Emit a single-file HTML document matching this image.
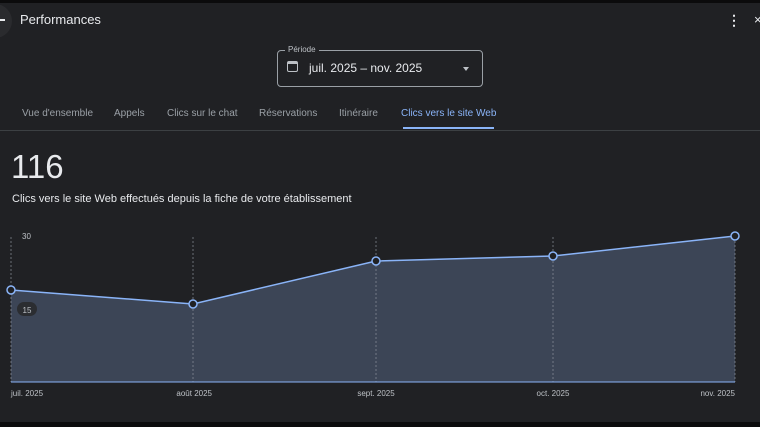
<!DOCTYPE html>
<html><head><meta charset="utf-8"><style>
body{margin:0;width:760px;height:427px;background:#202124;font-family:"Liberation Sans",sans-serif;color:#e8eaed;position:relative;overflow:hidden}
.a{position:absolute;white-space:nowrap}
</style></head><body>
<div class="a" style="left:0;top:0;width:760px;height:3px;background:#0b0b0c"></div>
<div class="a" style="left:-22px;top:4px;width:34px;height:34px;border-radius:50%;background:#2a2b2e"></div>
<div class="a" style="left:0;top:19px;width:5px;height:2px;background:#e8eaed"></div>
<div class="a" style="left:20px;top:12px;font-size:13px">Performances</div>
<div class="a" style="left:727px;top:12px;font-size:14px;font-weight:bold">⋮</div>
<div class="a" style="left:754px;top:12px;font-size:13px">×</div>
<div class="a" style="left:277px;top:50px;width:204px;height:35px;border:1px solid #9aa0a6;border-radius:4px"></div>
<div class="a" style="left:285px;top:45px;font-size:8px;background:#202124;padding:0 3px;color:#bdc1c6">Période</div>
<div class="a" style="left:287px;top:61px;width:11px;height:11px;border:1.5px solid #bdc1c6;border-top-width:3px;border-radius:2px;box-sizing:border-box"></div>
<div class="a" style="left:309px;top:61px;font-size:12px">juil. 2025 – nov. 2025</div>
<div class="a" style="left:463px;top:67px;border:3px solid transparent;border-top:4px solid #bdc1c6"></div>
<div class="a" style="top:108px;font-size:10px;color:#9aa0a6;left:22px">Vue d'ensemble</div>
<div class="a" style="top:108px;font-size:10px;color:#9aa0a6;left:114px">Appels</div>
<div class="a" style="top:108px;font-size:10px;color:#9aa0a6;left:167px">Clics sur le chat</div>
<div class="a" style="top:108px;font-size:10px;color:#9aa0a6;left:259px">Réservations</div>
<div class="a" style="top:108px;font-size:10px;color:#9aa0a6;left:339px">Itinéraire</div>
<div class="a" style="top:108px;font-size:10px;color:#8ab4f8;left:401px">Clics vers le site Web</div>
<div class="a" style="left:403px;top:127px;width:91px;height:2px;background:#8ab4f8"></div>
<div class="a" style="left:0;top:130px;width:760px;height:1px;background:#3c4043"></div>
<div class="a" style="left:11px;top:148px;font-size:33px">116</div>
<div class="a" style="left:12px;top:193px;font-size:11px">Clics vers le site Web effectués depuis la fiche de votre établissement</div>
<svg class="a" style="left:0;top:0" width="760" height="427">
<polygon points="11,290 193,304 376,261 553,256 735,236 735,382 11,382" fill="#3c4556"/>
<g stroke="#8a909a" stroke-dasharray="2,2" stroke-width="0.7">
<line x1="11" y1="237" x2="11" y2="382"/><line x1="193" y1="237" x2="193" y2="382"/><line x1="376" y1="237" x2="376" y2="382"/><line x1="553" y1="237" x2="553" y2="382"/><line x1="735" y1="237" x2="735" y2="382"/>
</g>
<polyline points="11,290 193,304 376,261 553,256 735,236" fill="none" stroke="#8ab4f8" stroke-width="1.5"/>
<line x1="11" y1="382" x2="735" y2="382" stroke="#8ab4f8" stroke-width="1"/>
<g fill="#202124" stroke="#8ab4f8" stroke-width="1.5">
<circle cx="11" cy="290" r="4"/><circle cx="193" cy="304" r="4"/><circle cx="376" cy="261" r="4"/><circle cx="553" cy="256" r="4"/><circle cx="735" cy="236" r="4"/>
</g>
<rect x="17" y="302" width="20" height="14" rx="7" fill="#2b2d31"/>
<text x="27" y="313" font-size="8" fill="#bdc1c6" text-anchor="middle" font-family="Liberation Sans">15</text>
<text x="22" y="239" font-size="8" fill="#bdc1c6" font-family="Liberation Sans">30</text>
<g font-size="8" fill="#bdc1c6" font-family="Liberation Sans">
<text x="11" y="396">juil. 2025</text>
<text x="212" y="396" text-anchor="end">août 2025</text>
<text x="376" y="396" text-anchor="middle">sept. 2025</text>
<text x="553" y="396" text-anchor="middle">oct. 2025</text>
<text x="735" y="396" text-anchor="end">nov. 2025</text>
</g>
<rect x="0" y="422" width="760" height="5" fill="#0b0b0c"/>
</svg>
</body></html>
